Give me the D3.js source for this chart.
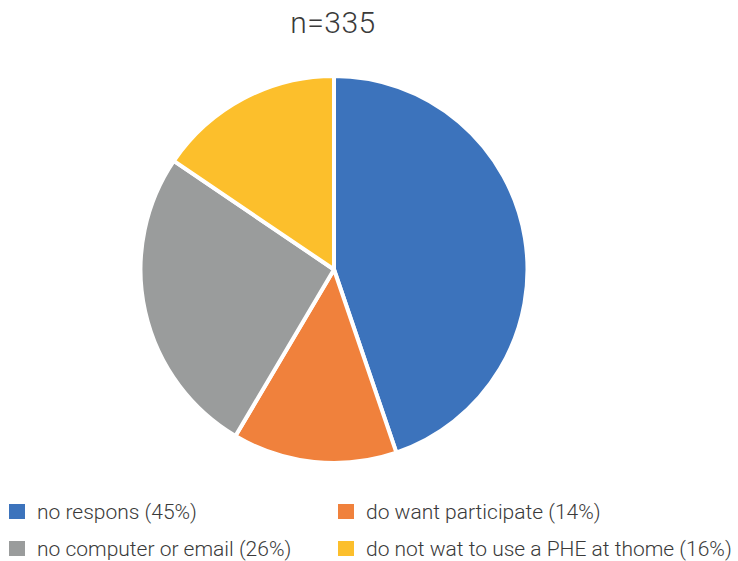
<!DOCTYPE html>
<html>
  <head>
    <script src="https://cdn.jsdelivr.net/npm/d3@7/dist/d3.min.js"></script>
    <style>
      body { margin: 0; background: #fff; }
      text { font-family: Roboto, "Liberation Sans", sans-serif; font-weight: 300; fill: #3a3a3a; }
    </style>
  </head>
  <body>
    <svg width="738" height="561"></svg>
    <script>

      const categories = ["no respons", "do want participate", "no computer or email", "do not wat to use a PHE at thome"];
      const counts = [150, 46, 87, 52];
      const pctLabels = ["45%", "14%", "26%", "16%"];
      const colors = ["#3c73bc", "#f0813c", "#9a9c9c", "#fcbf2c"];
      const title = "n=335";

      const svg = d3.select("svg");

      const cx = 334, cy = 269.5, radius = 193.5;

      const pie = d3.pie().sort(null);
      const arc = d3.arc().innerRadius(0).outerRadius(radius);

      const slices = pie(counts);

      svg.append("g")
          .attr("transform", `translate(${cx},${cy})`)
        .selectAll("path")
        .data(slices)
        .enter()
        .append("path")
          .attr("d", arc)
          .attr("fill", (d, i) => colors[i])
          .attr("stroke", "#fff")
          .attr("stroke-width", 4)
          .attr("stroke-linejoin", "round");

      svg.append("text")
          .attr("x", 333)
          .attr("y", 33)
          .attr("text-anchor", "middle")
          .style("font-size", "30px")
          .style("letter-spacing", "0.5px")
          .text(title);

      // legend, 2 columns
      const legendPos = [[9, 504], [338, 504], [9, 541], [338, 541]];

      const legend = svg.append("g")
        .selectAll("g")
        .data(categories)
        .enter()
        .append("g")
          .attr("transform", (d, i) => `translate(${legendPos[i][0]},${legendPos[i][1]})`);

      legend.append("rect")
          .attr("width", 16)
          .attr("height", 15)
          .attr("fill", (d, i) => colors[i]);

      legend.append("text")
          .attr("x", 28)
          .attr("y", 14.5)
          .style("font-size", "21px")
          .text((d, i) => `${d} (${pctLabels[i]})`);

    </script>
  </body>
</html>
